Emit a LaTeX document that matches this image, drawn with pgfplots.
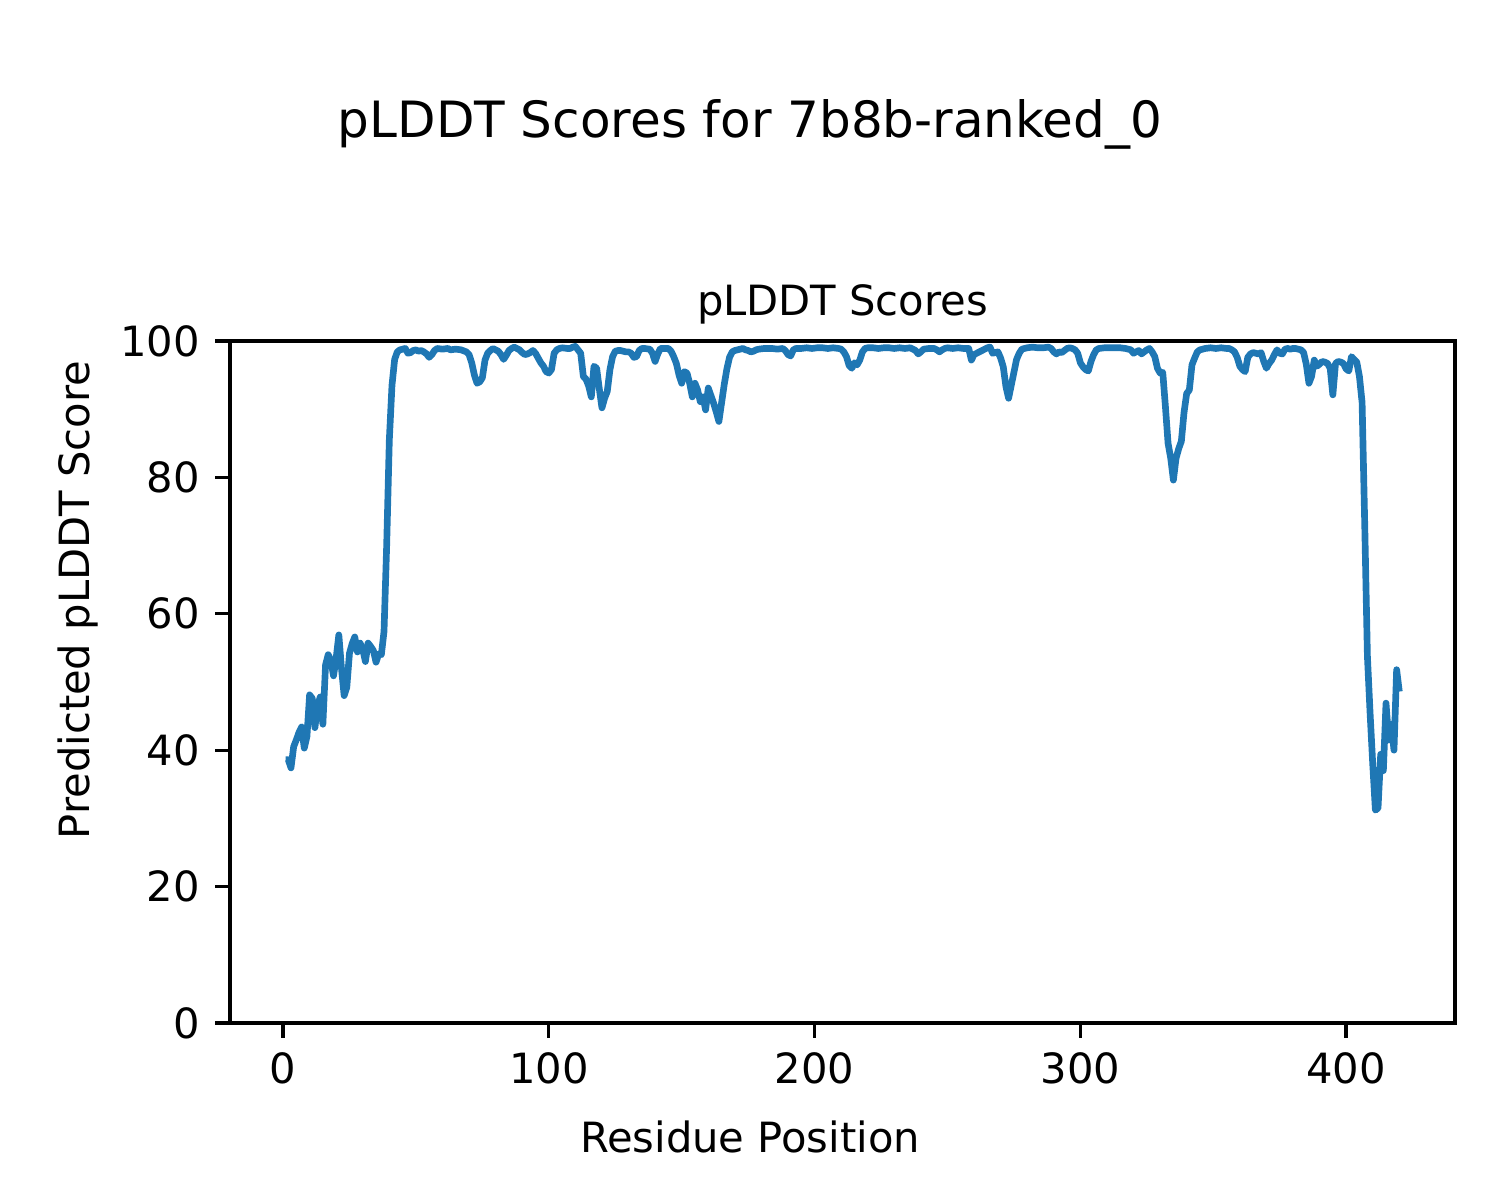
\documentclass[border=0pt]{standalone}
\usepackage{fontspec}
\setmainfont{DejaVu Sans}
\usepackage{pgfplots}
\pgfplotsset{compat=1.18}
\definecolor{mplblue}{HTML}{1F77B4}
\begin{document}
\begin{tikzpicture}
\useasboundingbox (-55.2pt,-42.48pt) rectangle (304.8pt,245.52pt);
\begin{axis}[
  at={(0pt,0pt)}, anchor=south west,
  scale only axis, width=294pt, height=163.68pt,
  xmin=-19.95, xmax=440.95, ymin=0, ymax=100,
  xtick={0,100,200,300,400}, ytick={0,20,40,60,80,100},
  xtick pos=bottom, ytick pos=left,
  tick align=outside, major tick length=3.5pt,
  tick style={black, line width=0.8pt},
  axis line style={line width=0.8pt},
  /pgf/number format/assume math mode=true,
  tick label style={font=\fontsize{10}{12}\selectfont},
  xticklabel style={anchor=north, inner sep=0pt, yshift=-3.5pt},
  yticklabel style={anchor=east, inner sep=0pt, xshift=-3.5pt},
  title={pLDDT Scores},
  title style={font=\fontsize{10}{12}\selectfont, at={(axis description cs:0.5,1)}, anchor=base, yshift=0.2pt},
  xlabel={Residue Position},
  xlabel style={font=\fontsize{10}{12}\selectfont, at={(axis description cs:0.4245,0)}, anchor=base, yshift=-31.2pt},
  ylabel={Predicted pLDDT Score},
  ylabel style={font=\fontsize{10}{12}\selectfont, at={(axis description cs:-0.1143,0.620)}, anchor=base, rotate=0},
]
\addplot[mplblue, line width=1.6pt, line join=round] coordinates {
(1,38.6)(2,38.6)(3,37.4)(4,40.5)(5,41.5)(6,42.6)(7,43.4)(8,40.3)(9,42.0)(10,48.1)(11,47.6)(12,43.3)(13,46.5)(14,47.8)(15,43.8)(16,52.5)(17,54.0)(18,53.2)(19,50.9)(20,53.5)(21,56.9)(22,52.0)(23,48.0)(24,49.2)(25,54.2)(26,55.6)(27,56.6)(28,54.4)(29,55.7)(30,54.8)(31,53.0)(32,55.7)(33,55.2)(34,54.6)(35,52.9)(36,54.1)(37,54.0)(38,57.4)(39,70.0)(40,85.5)(41,93.5)(42,97.3)(43,98.4)(44,98.7)(45,98.8)(46,98.9)(47,98.2)(48,98.3)(49,98.6)(50,98.7)(51,98.5)(52,98.6)(53,98.4)(54,98.1)(55,97.6)(56,98.0)(57,98.6)(58,98.9)(60,98.8)(62,98.9)(63,98.7)(65,98.8)(67,98.7)(69,98.4)(70,98.0)(71,96.8)(72,95.0)(73,93.8)(74,94.0)(75,94.6)(76,97.2)(77,98.2)(78,98.6)(79,98.9)(81,98.5)(82,98.0)(83,97.3)(84,97.9)(85,98.6)(86,98.9)(87,99.1)(88,98.9)(89,98.7)(90,98.3)(91,98.0)(92,98.1)(93,98.3)(94,98.6)(95,98.2)(96,97.5)(97,96.8)(98,96.3)(99,95.5)(100,95.3)(101,95.8)(102,98.2)(103,98.7)(104,98.9)(105,99.0)(107,98.9)(108,98.9)(109,99.1)(110,99.2)(111,98.7)(112,98.2)(113,94.8)(114,94.4)(115,93.4)(116,91.8)(117,96.3)(118,96.0)(119,93.0)(120,90.2)(121,91.6)(122,92.6)(123,95.8)(124,97.7)(125,98.5)(126,98.6)(127,98.6)(128,98.5)(129,98.4)(130,98.4)(131,98.2)(132,97.6)(133,97.7)(134,98.6)(135,98.9)(136,98.9)(138,98.8)(139,98.2)(140,97.0)(141,98.1)(142,98.9)(143,98.9)(145,98.9)(146,98.5)(147,97.7)(148,96.7)(149,95.0)(150,93.8)(151,95.5)(152,95.3)(153,93.8)(154,91.8)(155,93.8)(156,92.8)(157,91.1)(158,91.8)(159,89.9)(160,93.1)(161,92.0)(162,90.9)(163,89.6)(164,88.2)(165,90.9)(166,93.6)(167,95.9)(168,97.6)(169,98.4)(170,98.6)(171,98.7)(172,98.8)(173,98.9)(174,98.7)(175,98.6)(176,98.4)(177,98.5)(178,98.7)(179,98.8)(181,98.9)(184,98.9)(186,98.8)(188,98.9)(189,98.6)(190,98.0)(191,97.8)(192,98.7)(193,98.9)(195,98.9)(197,99.0)(199,98.9)(201,99.0)(203,99.0)(205,98.9)(207,99.0)(209,98.9)(210,98.8)(211,98.4)(212,97.7)(213,96.4)(214,96.0)(215,96.8)(216,96.5)(217,97.2)(218,98.4)(219,98.9)(220,99.0)(222,99.0)(224,98.9)(226,99.0)(228,99.0)(230,98.9)(232,99.0)(234,98.9)(236,99.0)(237,98.8)(238,98.6)(239,98.1)(240,98.4)(241,98.8)(243,98.9)(245,98.9)(246,98.7)(247,98.4)(248,98.7)(249,98.9)(250,99.0)(252,98.9)(254,99.0)(256,98.9)(258,98.9)(259,97.2)(260,98.0)(261,98.2)(262,98.4)(263,98.6)(264,98.8)(265,99.0)(266,99.1)(267,98.2)(268,98.3)(269,98.4)(270,97.5)(271,96.2)(272,93.3)(273,91.6)(274,93.5)(275,95.4)(276,97.3)(277,98.2)(278,98.8)(280,99.0)(282,99.1)(284,99.0)(286,99.0)(288,99.1)(289,98.9)(290,98.4)(291,98.1)(292,98.4)(293,98.3)(294,98.6)(295,98.9)(296,99.0)(297,98.9)(298,98.7)(299,98.2)(300,96.8)(301,96.2)(302,95.8)(303,95.6)(304,97.0)(305,98.0)(306,98.7)(307,98.9)(309,99.0)(311,99.0)(313,99.0)(315,99.0)(317,98.9)(319,98.7)(320,98.2)(321,98.4)(322,98.6)(323,98.1)(324,98.4)(325,98.7)(326,98.9)(327,98.4)(328,97.7)(329,96.0)(330,95.3)(331,95.4)(332,90.4)(333,85.0)(334,82.8)(335,79.6)(336,82.8)(337,84.2)(338,85.3)(339,89.5)(340,92.3)(341,92.8)(342,96.5)(343,97.5)(344,98.4)(345,98.7)(346,98.8)(347,98.9)(349,99.0)(351,98.9)(353,99.0)(355,98.9)(356,98.9)(357,98.7)(358,98.4)(359,97.6)(360,96.3)(361,95.8)(362,95.5)(363,97.6)(364,98.1)(365,98.3)(366,98.2)(367,98.1)(368,98.3)(369,97.0)(370,96.0)(371,96.7)(372,97.2)(373,98.0)(374,98.7)(375,98.2)(376,98.1)(377,98.8)(378,98.9)(379,98.8)(380,98.9)(381,98.9)(382,98.8)(383,98.7)(384,98.3)(385,96.6)(386,93.8)(387,94.8)(388,97.2)(389,96.3)(390,96.6)(391,97.0)(392,96.9)(393,96.7)(394,96.0)(395,92.1)(396,96.7)(397,97.0)(398,96.9)(399,96.7)(400,95.9)(401,95.6)(402,97.7)(403,97.3)(404,96.9)(405,94.8)(406,91.0)(407,73.0)(408,53.8)(409,45.5)(410,38.0)(411,31.2)(412,31.5)(413,39.4)(414,37.0)(415,46.9)(416,41.5)(417,43.8)(418,40.0)(419,51.8)(420,48.6)
};
\end{axis}
\node[anchor=base, font=\fontsize{12}{14.4}\selectfont] at (124.8pt,212.6pt) {pLDDT Scores for 7b8b-ranked\_0};
\end{tikzpicture}
\end{document}
